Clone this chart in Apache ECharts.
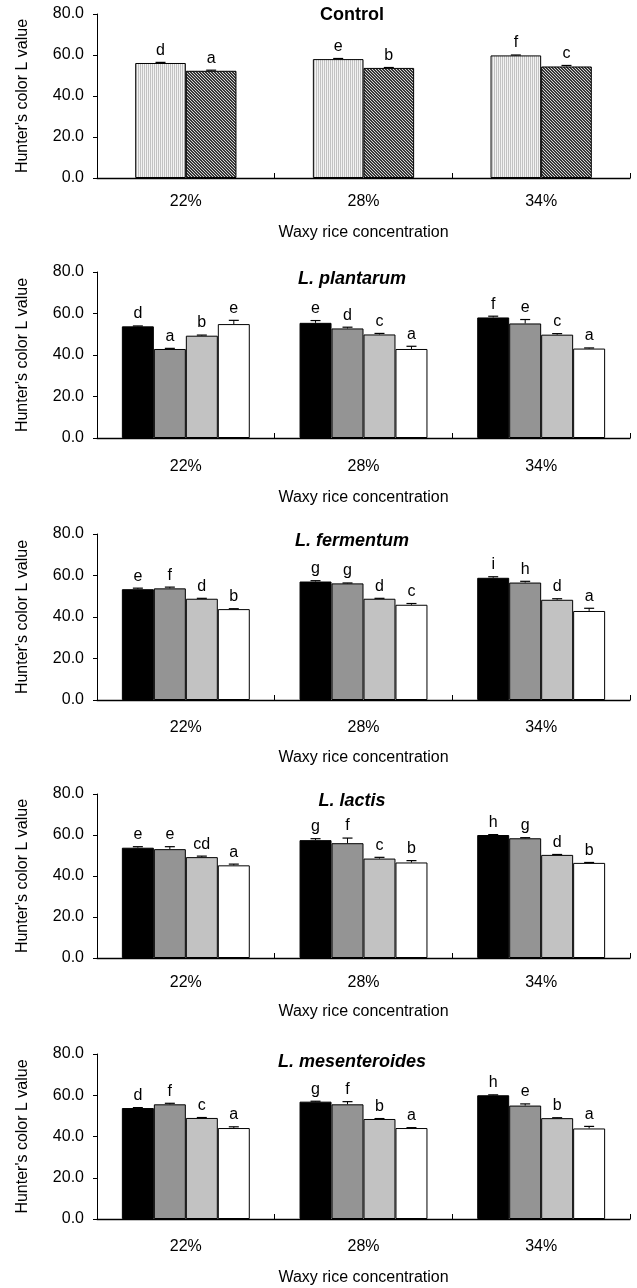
<!DOCTYPE html>
<html><head><meta charset="utf-8">
<script src="https://cdn.jsdelivr.net/npm/echarts@6/dist/echarts.min.js"></script>
<style>html,body{margin:0;padding:0;background:#fff}#c{width:637px;height:1288px}</style>
</head><body><div id="c"></div>
<script>
// ---------- data ----------
const categories = ['22%', '28%', '34%'];
const panelTitles = ['Control', 'L. plantarum', 'L. fermentum', 'L. lactis', 'L. mesenteroides'];
const yTickValues = [0, 20, 40, 60, 80];
const yAxisTitle = "Hunter's color L value";
const xAxisTitle = 'Waxy rice concentration';

// Control (two patterned bars)
const controlA = [56.1, 58.0, 59.8];
const controlAErr = [0.3, 0.3, 0.2];
const controlALetters = ['d', 'e', 'f'];
const controlB = [52.3, 53.7, 54.4];
const controlBErr = [0.3, 0.2, 0.5];
const controlBLetters = ['a', 'b', 'c'];

// L. plantarum
const plantarumBlack = [53.8, 55.5, 58.1];
const plantarumBlackErr = [0.2, 1.1, 0.6];
const plantarumBlackLetters = ['d', 'e', 'f'];
const plantarumGray = [42.9, 52.8, 55.2];
const plantarumGrayErr = [0.3, 0.6, 1.9];
const plantarumGrayLetters = ['a', 'd', 'e'];
const plantarumLight = [49.3, 49.9, 49.8];
const plantarumLightErr = [0.3, 0.5, 0.5];
const plantarumLightLetters = ['b', 'c', 'c'];
const plantarumWhite = [54.9, 42.9, 43.1];
const plantarumWhiteErr = [1.8, 1.3, 0.3];
const plantarumWhiteLetters = ['e', 'a', 'a'];

// L. fermentum
const fermentumBlack = [53.4, 57.1, 58.9];
const fermentumBlackErr = [0.5, 0.4, 0.5];
const fermentumBlackLetters = ['e', 'g', 'i'];
const fermentumGray = [53.8, 56.2, 56.6];
const fermentumGrayErr = [0.6, 0.2, 0.6];
const fermentumGrayLetters = ['f', 'g', 'h'];
const fermentumLight = [48.8, 48.8, 48.3];
const fermentumLightErr = [0.2, 0.2, 0.5];
const fermentumLightLetters = ['d', 'd', 'd'];
const fermentumWhite = [43.8, 45.9, 42.9];
const fermentumWhiteErr = [0.2, 0.6, 1.3];
const fermentumWhiteLetters = ['b', 'c', 'a'];

// L. lactis
const lactisBlack = [53.8, 57.5, 60.0];
const lactisBlackErr = [0.5, 0.7, 0.2];
const lactisBlackLetters = ['e', 'g', 'h'];
const lactisGray = [53.1, 56.0, 58.4];
const lactisGrayErr = [1.2, 2.5, 0.3];
const lactisGrayLetters = ['e', 'f', 'g'];
const lactisLight = [49.2, 48.5, 50.3];
const lactisLightErr = [0.5, 0.6, 0.2];
const lactisLightLetters = ['cd', 'c', 'd'];
const lactisWhite = [45.2, 46.6, 46.4];
const lactisWhiteErr = [0.6, 0.9, 0.2];
const lactisWhiteLetters = ['a', 'b', 'b'];

// L. mesenteroides
const mesBlack = [53.8, 56.9, 60.0];
const mesBlackErr = [0.2, 0.2, 0.2];
const mesBlackLetters = ['d', 'g', 'h'];
const mesGray = [55.6, 55.6, 55.0];
const mesGrayErr = [0.5, 1.3, 0.8];
const mesGrayLetters = ['f', 'f', 'e'];
const mesLight = [49.0, 48.5, 48.9];
const mesLightErr = [0.2, 0.2, 0.2];
const mesLightLetters = ['c', 'b', 'b'];
const mesWhite = [44.1, 44.1, 43.9];
const mesWhiteErr = [0.6, 0.2, 1.0];
const mesWhiteLetters = ['a', 'a', 'a'];

// ---------- styling / layout ----------
const FONT = '"Liberation Sans", Arial, Helvetica, sans-serif';

function lightStripes() {
  const c = document.createElement('canvas'); c.width = 2; c.height = 2;
  const g = c.getContext('2d');
  g.fillStyle = '#f2f2f2'; g.fillRect(0, 0, 2, 2);
  g.fillStyle = '#c2c2c2'; g.fillRect(0, 0, 1, 2);
  return c;
}
function darkHatch() {
  const c = document.createElement('canvas'); c.width = 3; c.height = 3;
  const g = c.getContext('2d');
  for (let x = 0; x < 3; x++) for (let y = 0; y < 3; y++) {
    g.fillStyle = ((x - y + 3) % 3 === 0) ? '#d4d4d4' : '#383838';
    g.fillRect(x, y, 1, 1);
  }
  return c;
}
const fills4 = ['#000000', '#949494', '#c2c2c2', '#ffffff'];
const fillsCtrl = [{ image: lightStripes(), repeat: 'repeat' }, { image: darkHatch(), repeat: 'repeat' }];

const panels = [
  { bars: [[controlA, controlAErr, controlALetters], [controlB, controlBErr, controlBLetters]], fills: fillsCtrl, gap: 0.43, italic: false },
  { bars: [[plantarumBlack, plantarumBlackErr, plantarumBlackLetters], [plantarumGray, plantarumGrayErr, plantarumGrayLetters], [plantarumLight, plantarumLightErr, plantarumLightLetters], [plantarumWhite, plantarumWhiteErr, plantarumWhiteLetters]], fills: fills4, gap: 0.28, italic: true },
  { bars: [[fermentumBlack, fermentumBlackErr, fermentumBlackLetters], [fermentumGray, fermentumGrayErr, fermentumGrayLetters], [fermentumLight, fermentumLightErr, fermentumLightLetters], [fermentumWhite, fermentumWhiteErr, fermentumWhiteLetters]], fills: fills4, gap: 0.28, italic: true },
  { bars: [[lactisBlack, lactisBlackErr, lactisBlackLetters], [lactisGray, lactisGrayErr, lactisGrayLetters], [lactisLight, lactisLightErr, lactisLightLetters], [lactisWhite, lactisWhiteErr, lactisWhiteLetters]], fills: fills4, gap: 0.28, italic: true },
  { bars: [[mesBlack, mesBlackErr, mesBlackLetters], [mesGray, mesGrayErr, mesGrayLetters], [mesLight, mesLightErr, mesLightLetters], [mesWhite, mesWhiteErr, mesWhiteLetters]], fills: fills4, gap: 0.28, italic: true }
];

const layout = [
  { top: 14, height: 164, titleY: 6, labelMargin: 16, nameGap: 47 },
  { top: 272, height: 166, titleY: 270, labelMargin: 21, nameGap: 52 },
  { top: 534, height: 166, titleY: 532, labelMargin: 20, nameGap: 50 },
  { top: 794, height: 164, titleY: 792, labelMargin: 17, nameGap: 46 },
  { top: 1054, height: 165, titleY: 1053, labelMargin: 20, nameGap: 51 }
];

const grid = [], xAxis = [], yAxis = [], title = [], series = [];
panels.forEach((p, pi) => {
  const L = layout[pi];
  grid.push({ left: 97, right: 7, top: L.top, height: L.height, containLabel: false });
  title.push({
    text: panelTitles[pi], left: 352, top: L.titleY, textAlign: 'center', padding: 0,
    textStyle: { fontFamily: FONT, fontSize: 18, fontWeight: 'bold', fontStyle: p.italic ? 'italic' : 'normal', color: '#000' }
  });
  xAxis.push({
    type: 'category', gridIndex: pi, data: categories,
    name: xAxisTitle, nameLocation: 'middle', nameGap: L.nameGap,
    nameTextStyle: { fontFamily: FONT, fontSize: 16, color: '#000' },
    axisLine: { lineStyle: { color: '#000', width: 1.3 } },
    axisTick: { show: true, inside: true, length: 5, alignWithLabel: false, interval: 0, lineStyle: { color: '#000' } },
    axisLabel: { fontFamily: FONT, fontSize: 16, color: '#000', margin: L.labelMargin },
    splitLine: { show: false }
  });
  yAxis.push({
    type: 'value', gridIndex: pi, min: yTickValues[0], max: yTickValues[yTickValues.length - 1],
    interval: yTickValues[1] - yTickValues[0],
    name: yAxisTitle, nameLocation: 'middle', nameGap: 66,
    nameTextStyle: { fontFamily: FONT, fontSize: 16, color: '#000' },
    axisLine: { show: true, lineStyle: { color: '#000', width: 1 } },
    axisTick: { show: true, inside: false, length: 4, lineStyle: { color: '#000' } },
    axisLabel: { fontFamily: FONT, fontSize: 16, color: '#000', margin: 13, formatter: v => v.toFixed(1) },
    splitLine: { show: false }
  });
  const n = p.bars.length;
  p.bars.forEach((b, bi) => {
    series.push({
      type: 'bar', xAxisIndex: pi, yAxisIndex: pi, data: b[0],
      barGap: '0%', barCategoryGap: Math.round(p.gap * 100) + '%',
      itemStyle: { color: p.fills[bi], borderColor: '#000', borderWidth: 1 },
      silent: true, animation: false
    });
  });
  const items = [], letters = [];
  p.bars.forEach((b, bi) => {
    b[0].forEach((v, ci) => { items.push([ci, v, b[1][ci], bi]); letters.push(b[2][ci]); });
  });
  series.push({
    type: 'custom', xAxisIndex: pi, yAxisIndex: pi, data: items, z: 10, silent: true, animation: false,
    renderItem: (params, api) => {
      const ci = api.value(0), mean = api.value(1), err = api.value(2), bi = api.value(3);
      const band = api.size([1, 0])[0];
      const bw = band * (1 - p.gap) / n;
      const cx = api.coord([ci, 0])[0] + (bi - (n - 1) / 2) * bw;
      const yTop = api.coord([ci, mean])[1];
      const yCap = api.coord([ci, mean + err])[1];
      return {
        type: 'group', children: [
          { type: 'line', shape: { x1: cx, y1: yTop, x2: cx, y2: yCap }, style: { stroke: '#000', lineWidth: 1 } },
          { type: 'line', shape: { x1: cx - 5, y1: yCap, x2: cx + 5, y2: yCap }, style: { stroke: '#000', lineWidth: 1.2 } },
          { type: 'text', style: { text: letters[params.dataIndex], x: cx, y: yCap - 4, align: 'center', verticalAlign: 'bottom', fontFamily: FONT, fontSize: 16, fill: '#000' } }
        ]
      };
    }
  });
});

const chart = echarts.init(document.getElementById('c'), null, { renderer: 'canvas' });
chart.setOption({ animation: false, backgroundColor: '#fff', title, grid, xAxis, yAxis, series });
</script>
</body></html>
